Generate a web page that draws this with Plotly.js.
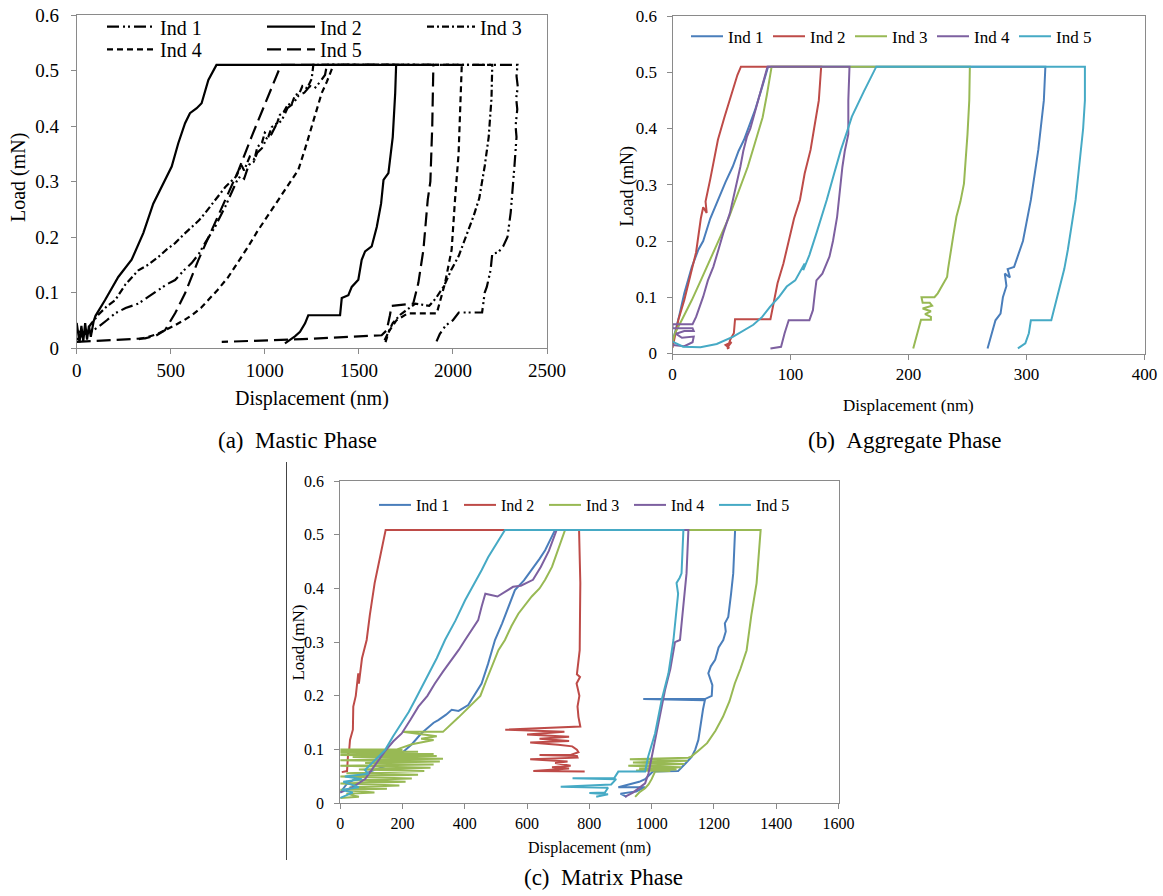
<!DOCTYPE html>
<html><head><meta charset="utf-8">
<script src="https://cdn.plot.ly/plotly-3.0.1.min.js"></script>
<style>body{margin:0;background:#fff}#chart{width:1163px;height:896px}</style>
</head><body><div id="chart"></div>
<script>
// ---------- (a) Mastic Phase ----------
var seriesNames = ["Ind 1","Ind 2","Ind 3","Ind 4","Ind 5"];
var xTicksA = [0,500,1000,1500,2000,2500];
var xTicksB = [0,100,200,300,400];
var xTicksC = [0,200,400,600,800,1000,1200,1400,1600];
var yTicks = [0,0.1,0.2,0.3,0.4,0.5,0.6];

var a1x = [0,40,80,115,160,204,260,328,380,434,480,523,570,611,650,682,735,790,850,870,890,915,940,960,985,1010,1035,1060,1090,1120,1150,1180,1210,1240,1265,1290,1320,1330,2343,2338,2345,2336,2342,2333,2338,2327,2315,2307,2290,2268,2240,2209,2200,2180,2169,2155,2031,2000,1960,1930,1913];
var a1y = [0.015,0.025,0.03,0.038,0.05,0.0625,0.072,0.08,0.092,0.105,0.115,0.1225,0.14,0.153,0.17,0.189,0.218,0.255,0.3,0.31,0.305,0.33,0.335,0.352,0.36,0.378,0.385,0.402,0.41,0.432,0.44,0.455,0.46,0.472,0.468,0.478,0.492,0.51,0.51,0.49,0.47,0.45,0.43,0.4,0.38,0.328,0.27,0.244,0.2,0.184,0.172,0.17,0.14,0.11,0.1,0.064,0.064,0.05,0.04,0.025,0.012];

var a2x = [0,15,25,35,45,55,65,75,90,100,150,221,292,354,407,469,505,540,576,602,638,664,700,743,1698,1693,1680,1657,1631,1618,1595,1568,1533,1515,1497,1462,1444,1409,1400,1231,1214,1187,1160,1107];
var a2y = [0.045,0.01,0.04,0.012,0.045,0.015,0.04,0.02,0.048,0.058,0.086,0.128,0.159,0.207,0.26,0.303,0.327,0.369,0.405,0.423,0.432,0.441,0.483,0.51,0.51,0.459,0.38,0.315,0.303,0.26,0.218,0.183,0.174,0.159,0.123,0.11,0.095,0.09,0.059,0.059,0.0445,0.029,0.021,0.0085];

var a3x = [0,43,80,115,160,204,260,328,380,434,480,523,570,611,650,682,735,790,850,875,890,920,945,960,985,1000,1020,1037,1065,1080,1100,1125,1140,1160,1185,1200,1225,1249,1258,2209,2205,2190,2169,2140,2110,2070,2031,1990,1953,1910,1874,1800,1760,1720,1680,1660,1630];
var a3y = [0.03,0.028,0.045,0.06,0.075,0.086,0.115,0.14,0.15,0.164,0.178,0.189,0.205,0.218,0.23,0.243,0.267,0.29,0.31,0.33,0.32,0.345,0.34,0.362,0.37,0.388,0.382,0.398,0.405,0.42,0.425,0.44,0.437,0.455,0.46,0.472,0.468,0.485,0.51,0.51,0.45,0.38,0.328,0.27,0.238,0.2,0.166,0.14,0.112,0.09,0.076,0.08,0.07,0.06,0.045,0.03,0.009];

var a4x = [330,380,434,480,523,570,611,660,700,750,806,860,912,960,1001,1040,1072,1130,1178,1215,1249,1280,1302,1330,1356,1365,2047,2042,2030,2011,1993,1958,1931,1914,1760,1700,1660,1640];
var a4y = [0.016,0.02,0.026,0.033,0.041,0.05,0.059,0.072,0.086,0.105,0.128,0.155,0.183,0.21,0.231,0.25,0.267,0.295,0.321,0.36,0.399,0.43,0.459,0.48,0.501,0.51,0.51,0.45,0.35,0.267,0.177,0.117,0.086,0.0625,0.0625,0.05,0.03,0.009];

var a5x = [0,100,200,363,420,469,523,576,646,718,788,860,930,1001,1086,1896,1890,1880,1866,1843,1816,1789,1674,1665,1648,1621,1200,771];
var a5y = [0.011,0.013,0.015,0.0175,0.022,0.032,0.0625,0.0985,0.158,0.213,0.267,0.32,0.381,0.441,0.51,0.51,0.4,0.3,0.267,0.177,0.117,0.08,0.076,0.059,0.032,0.023,0.016,0.011];

// ---------- (b) Aggregate Phase ----------
var b1x = [0,2,6,10,16.4,22,26,32,38.5,45,51,56,60.6,66,70,76,81,316,314.7,310,303.7,297,289.5,284,286,281.6,283,280,278,273.7,270.5,267];
var b1y = [0.02,0.036,0.07,0.107,0.154,0.185,0.2,0.24,0.273,0.305,0.332,0.36,0.38,0.41,0.433,0.474,0.51,0.51,0.45,0.362,0.273,0.2,0.154,0.15,0.135,0.142,0.12,0.1,0.071,0.059,0.036,0.009];

var b2x = [0,2,5,10,13,16,20,24,26,29,28,32,38.5,44,51,55,58,126,125,124,120,117,112,108,103,98.5,94,89,86,83,53,52,49,47,50,45,48,46];
var b2y = [0.01,0.03,0.06,0.095,0.12,0.142,0.18,0.24,0.26,0.25,0.27,0.31,0.38,0.42,0.468,0.495,0.51,0.51,0.48,0.45,0.4,0.362,0.32,0.273,0.24,0.2,0.16,0.125,0.09,0.061,0.061,0.036,0.025,0.012,0.02,0.015,0.01,0.009];

var b3x = [0,2,8,16.4,24,32,40,48,56,63.8,70,76.4,80,84,252,251.5,250,248.5,247,244,240.6,238,235.8,233.5,232.7,228,224.8,222,211,212,218,220,212,219,214,219,219,210.6,207.4,205,204];
var b3y = [0.02,0.036,0.06,0.095,0.13,0.166,0.205,0.243,0.29,0.332,0.375,0.42,0.46,0.51,0.51,0.45,0.39,0.35,0.302,0.27,0.243,0.21,0.184,0.15,0.136,0.119,0.107,0.1,0.1,0.09,0.09,0.085,0.08,0.075,0.07,0.065,0.06,0.06,0.036,0.02,0.009];

var b4x = [0,10,17,18,8,3,10,18,17,0,0,17,20,26,30,34.6,39,43,48.7,52,57.5,60,63.8,62,66,70,73,77,80.5,150,149,149,146,144,141,139.5,136,133,127,122,120.6,119,116,98.5,95,92,83];
var b4y = [0.015,0.013,0.02,0.03,0.028,0.035,0.04,0.04,0.045,0.045,0.052,0.052,0.065,0.101,0.13,0.154,0.185,0.214,0.25,0.28,0.332,0.36,0.391,0.38,0.4,0.43,0.45,0.48,0.51,0.51,0.45,0.39,0.36,0.332,0.28,0.243,0.2,0.172,0.142,0.13,0.107,0.077,0.059,0.059,0.036,0.012,0.009];

var b5x = [0,9,23.7,37.5,51.5,60,68.5,76,82.6,90,96.8,104,108,106,112,110.8,116,122,126,130.7,137,142.7,148,152,162,172.7,349.5,349.5,348,346.3,344,341.6,338,335,332,329,325,321,303.7,302,299,292.7];
var b5y = [0.021,0.012,0.011,0.017,0.03,0.04,0.051,0.065,0.083,0.1,0.119,0.13,0.145,0.14,0.16,0.148,0.175,0.214,0.24,0.273,0.32,0.362,0.395,0.421,0.465,0.51,0.51,0.45,0.4,0.362,0.32,0.273,0.22,0.184,0.15,0.125,0.09,0.059,0.059,0.036,0.018,0.009];

// ---------- (c) Matrix Phase ----------
var c1x = [0,20,60,100,154,197.5,230,260,300,315,340,358,380,411,430,454,475,497,520,540,561,590,615,640,658,675,690,1268,1266,1262,1255,1246,1235,1238,1230,1215,1204,1190,1182,1195,1193,1171,973,1171,1165,1161,1155,1150,1140,1129,1110,1097,1085,1004,990,979,960,893,979,950,900,920];
var c1y = [0.02,0.035,0.05,0.06,0.071,0.093,0.11,0.13,0.15,0.155,0.165,0.174,0.172,0.183,0.2,0.223,0.26,0.304,0.335,0.366,0.397,0.415,0.434,0.455,0.471,0.49,0.509,0.509,0.47,0.428,0.39,0.347,0.335,0.32,0.304,0.29,0.267,0.255,0.242,0.22,0.2,0.194,0.194,0.192,0.175,0.161,0.14,0.118,0.1,0.087,0.075,0.068,0.06,0.059,0.05,0.045,0.04,0.03,0.03,0.022,0.018,0.012];

var c2x = [5,22,26,28,31.5,40.7,42,50,58,60,70,85,95,110.6,125,142,146,767,769,771,770,769,760,770,759,768,762,765,771,530,720,600,735,640,735,610,700,745,760,765,740,640,760,762,610,730,690,740,680,735,620,785];
var c2y = [0.058,0.06,0.099,0.093,0.118,0.137,0.18,0.2,0.242,0.223,0.27,0.304,0.35,0.41,0.45,0.5,0.509,0.509,0.45,0.41,0.35,0.285,0.24,0.235,0.223,0.2,0.18,0.161,0.143,0.137,0.133,0.128,0.124,0.12,0.116,0.113,0.109,0.106,0.1,0.095,0.09,0.09,0.088,0.085,0.082,0.078,0.075,0.07,0.067,0.065,0.06,0.059];

var c3x = [0,60,20,110,0,150,30,190,0,210,40,230,0,250,20,270,60,290,0,300,80,320,0,330,40,310,0,300,0,250,0,200,0,180,230,300,260,310,200,330,380,422,450,470,490,508,529,550,572,595,615,640,658,680,700,722,1350,1345,1337,1320,1305,1285,1267,1250,1229,1205,1178,1150,1127,1118,930,1115,940,1105,925,1095,960,1080,950,1060,1011,1000,990,979,960,947];
var c3y = [0.01,0.012,0.018,0.02,0.025,0.027,0.03,0.033,0.037,0.04,0.043,0.046,0.05,0.053,0.056,0.06,0.063,0.066,0.07,0.072,0.075,0.078,0.08,0.083,0.086,0.088,0.09,0.092,0.094,0.096,0.097,0.099,0.1,0.1,0.11,0.118,0.12,0.125,0.133,0.133,0.16,0.183,0.2,0.23,0.26,0.285,0.304,0.33,0.353,0.37,0.385,0.4,0.416,0.44,0.471,0.509,0.509,0.47,0.41,0.35,0.285,0.25,0.223,0.19,0.161,0.135,0.112,0.098,0.087,0.085,0.082,0.079,0.076,0.073,0.07,0.067,0.065,0.063,0.061,0.06,0.059,0.045,0.035,0.028,0.02,0.012];

var c4x = [0,40,80,110,144,170,197.5,225,251,280,304,330,358,380,401,420,443,454,466,505,555,580,619,644,670,695,1118,1112,1102,1091,1075,1060,1043,1021,1006,990,979,940,914];
var c4y = [0.02,0.03,0.045,0.07,0.097,0.115,0.13,0.155,0.18,0.2,0.223,0.245,0.267,0.285,0.304,0.32,0.341,0.366,0.39,0.385,0.403,0.405,0.416,0.44,0.47,0.509,0.509,0.428,0.366,0.304,0.3,0.25,0.211,0.149,0.106,0.056,0.037,0.02,0.012];

var c5x = [0,40,5,60,10,70,15,90,79.6,110,144,170,197.5,220,240,260,283,310,336.5,370,401,430,454,475,497,515,529,1102,1096,1090,1080,1085,1070,1054,1032,1011,989,979,893,880,746,886,870,708,860,850,800,860,822];
var c5y = [0.01,0.02,0.025,0.03,0.04,0.045,0.05,0.055,0.062,0.08,0.099,0.125,0.149,0.17,0.192,0.215,0.242,0.27,0.304,0.34,0.378,0.408,0.434,0.458,0.478,0.495,0.509,0.509,0.428,0.42,0.41,0.39,0.304,0.242,0.192,0.13,0.087,0.059,0.059,0.047,0.0465,0.045,0.035,0.031,0.029,0.02,0.019,0.017,0.012];

// ---------- layout helpers ----------
var W = 1163, H = 896;
function fx(p){ return p / W; }
function fy(p){ return 1 - p / H; }
var SERIF = "'Liberation Serif', 'Times New Roman', serif";
var excel = ["#4a7ebb","#be4b48","#98b954","#7d60a0","#46aac5"];
var dashesA = ["12px,4px,2px,3px,2px,4px","solid","7px,3px,2px,3px","6px,4px","14px,6px"];

var dataA = [[a1x,a1y],[a2x,a2y],[a3x,a3y],[a4x,a4y],[a5x,a5y]];
var dataB = [[b1x,b1y],[b2x,b2y],[b3x,b3y],[b4x,b4y],[b5x,b5y]];
var dataC = [[c1x,c1y],[c2x,c2y],[c3x,c3y],[c4x,c4y],[c5x,c5y]];

var traces = [];
dataA.forEach(function(d,i){
  traces.push({x:d[0], y:d[1], type:"scatter", mode:"lines", name:seriesNames[i],
    xaxis:"x", yaxis:"y", legend: i < 3 ? "legend" : "legend2",
    line:{color:"#000", width:2.2, dash:dashesA[i]}});
});
dataB.forEach(function(d,i){
  traces.push({x:d[0], y:d[1], type:"scatter", mode:"lines", name:seriesNames[i],
    xaxis:"x2", yaxis:"y2", legend:"legend3",
    line:{color:excel[i], width:2}});
});
dataC.forEach(function(d,i){
  traces.push({x:d[0], y:d[1], type:"scatter", mode:"lines", name:seriesNames[i],
    xaxis:"x3", yaxis:"y3", legend:"legend4",
    line:{color:excel[i], width:2}});
});

function xax(dom, rng, ticks, fs, anchor){
  return {domain:dom, range:rng, tickvals:ticks, anchor:anchor, showgrid:false, zeroline:false,
    showline:true, mirror:true, linecolor:"#8a8a8a", linewidth:1, ticks:"outside", ticklen:5,
    tickcolor:"#8a8a8a", tickfont:{family:SERIF, size:fs, color:"#000"}, fixedrange:true};
}
function yax(dom, fs, anchor, stand){
  return {domain:dom, range:[0,0.6], tickvals:yTicks, anchor:anchor, showgrid:false, zeroline:false,
    showline:true, mirror:true, linecolor:"#8a8a8a", linewidth:1, ticks:"outside", ticklen:5,
    tickcolor:"#8a8a8a", ticklabelstandoff:stand, tickfont:{family:SERIF, size:fs, color:"#000"}, fixedrange:true};
}

function ann(text, x, y, size, rot){
  return {text:text, x:fx(x), y:fy(y), xref:"paper", yref:"paper", showarrow:false,
    xanchor:"center", yanchor:"middle", textangle:rot||0, font:{family:SERIF, size:size, color:"#000"}};
}

var legBase = function(x, yc, fs, iw, ew){
  return {x:fx(x), y:fy(yc), xanchor:"left", yanchor:"middle", orientation:"h",
    bgcolor:"rgba(0,0,0,0)", borderwidth:0, itemwidth:iw, entrywidth:ew, entrywidthmode:"pixels",
    font:{family:SERIF, size:fs, color:"#000"}, itemclick:false, itemdoubleclick:false};
};

var layout = {
  width:W, height:H, margin:{l:0,r:0,t:0,b:0}, paper_bgcolor:"#fff", plot_bgcolor:"#fff",
  font:{family:SERIF},
  showlegend:true, hovermode:false,
  xaxis: xax([fx(76.7), fx(547)], [0,2500], xTicksA, 19, "y"),
  yaxis: yax([fy(348), fy(15)], 19, "x", 8),
  xaxis2: xax([fx(672.5), fx(1144.5)], [0,400], xTicksB, 17, "y2"),
  yaxis2: yax([fy(353.5), fy(16)], 17, "x2", 6),
  xaxis3: xax([fx(340.2), fx(838.5)], [0,1600], xTicksC, 16, "y3"),
  yaxis3: yax([fy(803.3), fy(481)], 16, "x3", 7),
  legend:  legBase(102, 26.7, 20, 48, 97),
  legend2: legBase(102, 49.3, 20, 48, 97),
  legend3: legBase(686, 36.7, 17, 32, 35),
  legend4: legBase(374, 505, 16, 32, 38),
  annotations: [
    ann("Load (mN)", 18.5, 177.5, 20, -90),
    ann("Displacement (nm)", 312, 398, 20),
    ann("Load (mN)", 626.5, 187, 18, -90),
    ann("Displacement (nm)", 908, 405, 17),
    ann("Load (mN)", 297.6, 643, 17, -90),
    ann("Displacement (nm)", 589, 848, 16),
    ann("(a)\u00a0\u00a0Mastic Phase", 297, 440, 23),
    ann("(b)\u00a0\u00a0Aggregate Phase", 905, 440, 23),
    ann("(c)\u00a0\u00a0Matrix Phase", 603, 877, 23)
  ],
  shapes: [
    {type:"line", xref:"paper", yref:"paper", x0:fx(286.5), x1:fx(286.5), y0:fy(860), y1:fy(462),
     line:{color:"#444", width:1}}
  ]
};

Plotly.newPlot("chart", traces, layout, {staticPlot:true, displayModeBar:false});
</script></body></html>
